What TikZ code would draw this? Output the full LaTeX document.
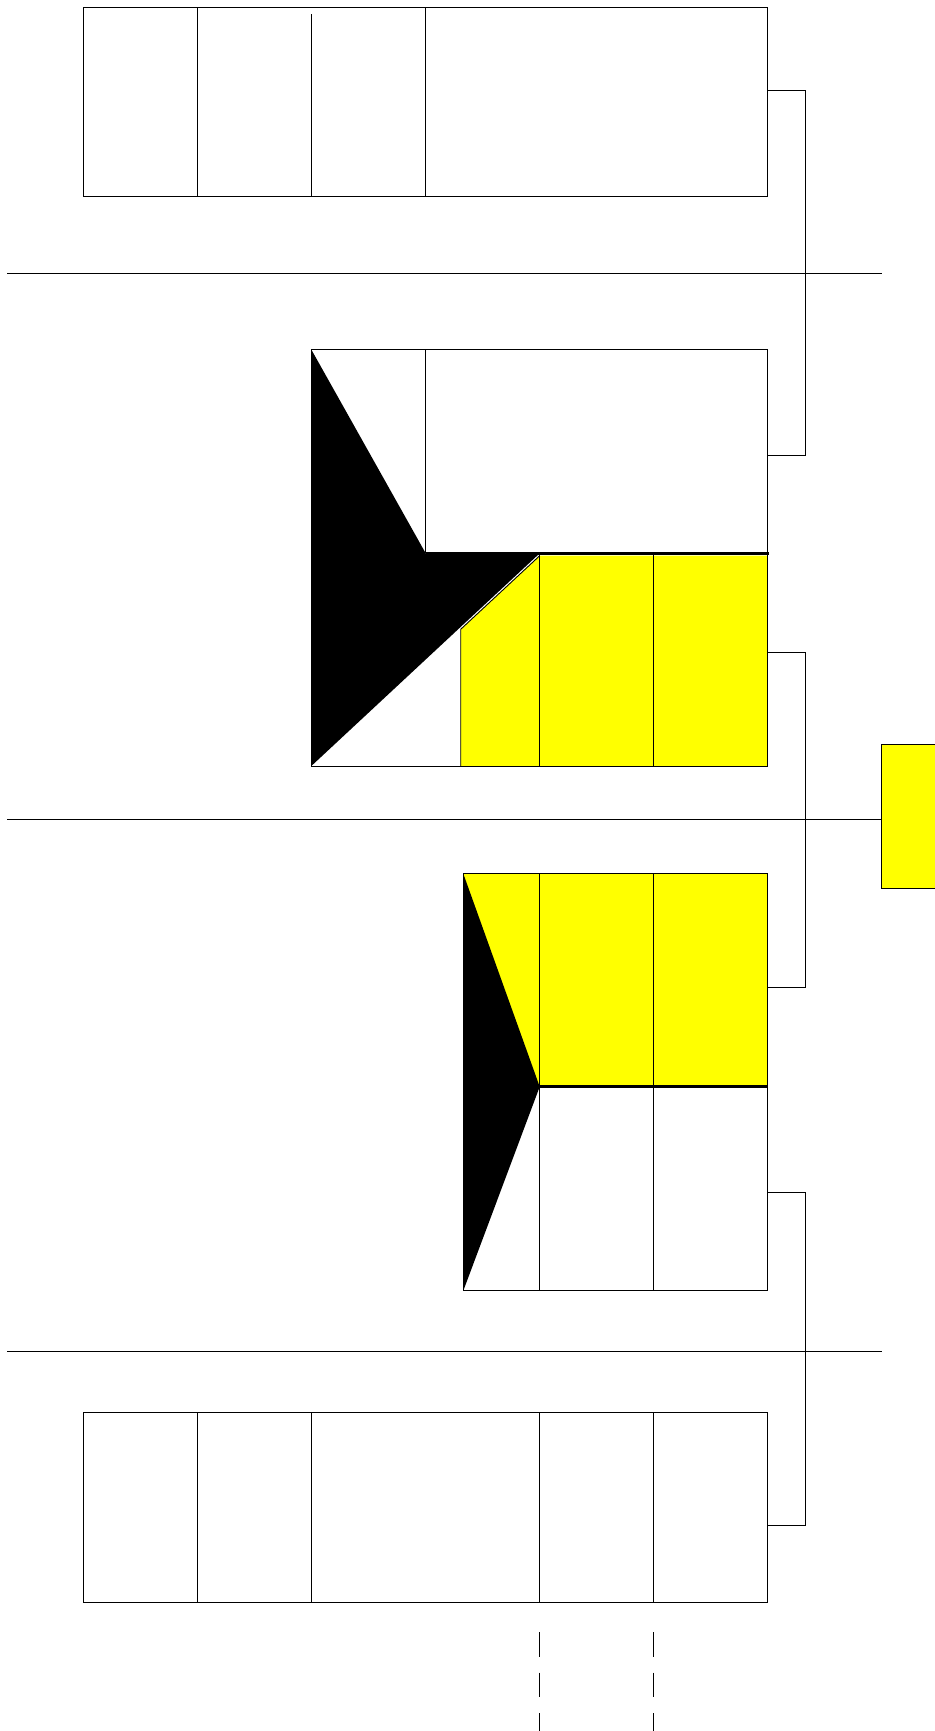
\documentclass[tikz,border=0pt]{standalone}
\usetikzlibrary{calc}
\definecolor{pureyellow}{RGB}{255,255,0}
\begin{document}
\begin{tikzpicture}[x=1pt,y=-1pt,
  ln/.style={draw=black,line width=0.9pt},
  thickln/.style={draw=black,line width=2.6pt},
  yel/.style={fill=pureyellow},
  blk/.style={fill=black},
  dashln/.style={draw=black,line width=0.9pt,dash pattern=on 24.4pt off 16pt}]
\useasboundingbox (0,0) rectangle (934,1731);
% ---------- top box ----------
\draw[ln] (83.3,7.3) rectangle (767.7,196.7);
\draw[ln] (197.7,7.3) -- (197.7,196.7);
\draw[ln] (311.7,14.3) -- (311.7,196.7);
\draw[ln] (425.7,7.3) -- (425.7,196.7);
% ---------- separators ----------
\draw[ln] (7.3,273) -- (882,273);
\draw[ln] (7.3,819.3) -- (881.7,819.3);
\draw[ln] (7.3,1351.3) -- (882,1351.3);
% ---------- second block ----------
\fill[yel] (460.7,766.3) -- (460.7,629.3) -- (539.7,555.7) -- (767.7,555.7) -- (767.7,766.3) -- cycle;
\fill[blk] (311,349) -- (425.7,553.3) -- (539.7,553.3) -- (311,766.3) -- cycle;
\draw[ln] (311,349) rectangle (767.7,766.3);
\draw[ln] (425.7,349) -- (425.7,553.3);
\draw[ln] (460.7,766.3) -- (460.7,629.3) -- (539.7,555.7);
\draw[ln] (539.7,553.3) -- (539.7,766.3);
\draw[ln] (653.7,553.3) -- (653.7,766.3);
\draw[thickln] (425.7,553.3) -- (769,553.3);
% ---------- third block ----------
\fill[yel] (463.3,873.7) rectangle (767.3,1086.7);
\fill[blk] (463.3,873.7) -- (539.7,1086.7) -- (463.3,1290.7) -- cycle;
\draw[ln] (463.3,873.7) rectangle (767.3,1290.7);
\draw[ln] (539.7,873.7) -- (539.7,1290.7);
\draw[ln] (653.5,873.7) -- (653.5,1290.7);
\draw[thickln] (539.7,1086.7) -- (767.3,1086.7);
% ---------- right side legend box ----------
\draw[ln,yel] (881.7,744.3) rectangle (945,888);
% ---------- brackets ----------
\draw[ln] (767.7,90.5) -- (805.3,90.5) -- (805.3,455.3) -- (767.7,455.3);
\draw[ln] (767.7,652.7) -- (805.3,652.7) -- (805.3,987) -- (767.3,987);
\draw[ln] (767.3,1192.3) -- (805.3,1192.3) -- (805.3,1525.7) -- (767.7,1525.7);
% ---------- bottom box ----------
\draw[ln] (83.3,1412) rectangle (767.7,1602.7);
\draw[ln] (197.7,1412) -- (197.7,1602.7);
\draw[ln] (311.7,1412) -- (311.7,1602.7);
\draw[ln] (539.7,1412) -- (539.7,1602.7);
\draw[ln] (653.5,1412) -- (653.5,1602.7);
% ---------- dashed continuations ----------
\draw[dashln] (539.7,1632.3) -- (539.7,1740);
\draw[dashln] (653.5,1632.3) -- (653.5,1740);
\end{tikzpicture}
\end{document}
